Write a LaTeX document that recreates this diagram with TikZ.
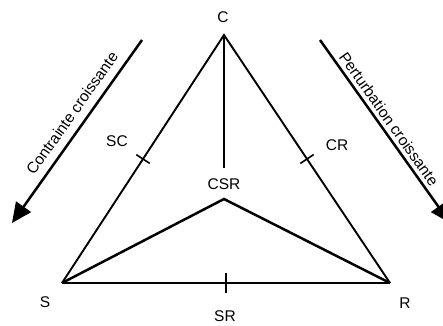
\documentclass[tikz,border=0pt]{standalone}
\usepackage{fontspec}
\setmainfont{Liberation Sans}
\usetikzlibrary{calc,arrows.meta}
\begin{document}
\begin{tikzpicture}[x=1pt,y=1pt,
  lbl/.style={font=\fontsize{15.5}{18}\selectfont, inner sep=0pt},
  edge/.style={line width=1.9pt},
  inner/.style={line width=2.5pt, line join=miter},
  bigarrow/.style={line width=2.5pt, -{Triangle[length=20pt,width=18pt]}},
  tickmark/.style={line width=1.6pt}]
\useasboundingbox (0,0) rectangle (443,325);
\clip (0,0) rectangle (443,325);
% vertices
\coordinate (C) at (224,290);
\coordinate (S) at (62,42);
\coordinate (R) at (390,42);
\coordinate (X) at (224,126);
\coordinate (Cb) at (224,157);
% triangle
\draw[edge, line join=miter] (S) -- (C) -- (R);
\draw[inner] (S) -- (R);
\draw[edge] (C) -- (Cb);
\draw[inner] (S) -- (X) -- (R);
% ticks
\coordinate (mSC) at ($(S)!0.5!(C)$);
\coordinate (mCR) at ($(C)!0.5!(R)$);
\coordinate (mSR) at ($(S)!0.5!(R)$);
\draw[tickmark] ($(mSC)!8pt!90:(C)$) -- ($(mSC)!8pt!-90:(C)$);
\draw[tickmark] ($(mCR)!8pt!90:(R)$) -- ($(mCR)!8pt!-90:(R)$);
\draw[tickmark] ($(mSR)!10pt!90:(R)$) -- ($(mSR)!10pt!-90:(R)$);
% labels
\node[lbl] (lC) at (223,307.5) {C};
\node[lbl] (lSC) at (117,184) {SC};
\node[lbl] (lCR) at (337,180) {CR};
\node[lbl] (lCSR) at (224,141) {CSR};
\node[lbl] (lS) at (45,23) {S};
\node[lbl] (lR) at (405,22) {R};
\node[lbl] (lSR) at (225,9) {SR};
% arrows
\coordinate (A1) at (142,285);
\coordinate (A2) at (12,102);
\coordinate (B1) at (320,285);
\coordinate (B2) at (450,102);
\draw[bigarrow] (A1) -- (A2);
\draw[bigarrow] (B1) -- (B2);
\node[lbl, rotate=54.6] (tA) at (72,212) {Contrainte croissante};
\node[lbl, rotate=-54.6] (tB) at (389,206) {Perturbation croissante};
\end{tikzpicture}
\end{document}
